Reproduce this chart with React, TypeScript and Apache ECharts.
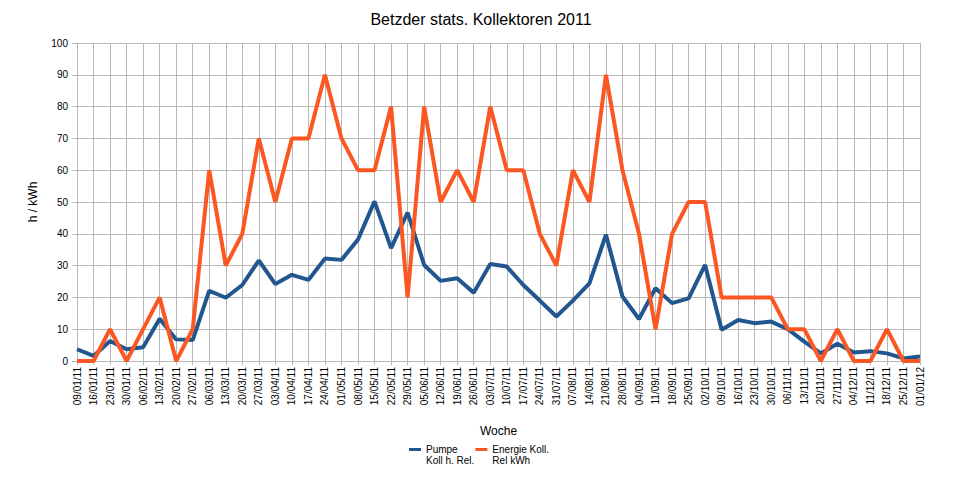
import React, { useEffect, useRef } from "react";
import * as echarts from "echarts";

const weeks = [
  "09/01/11", "16/01/11", "23/01/11", "30/01/11", "06/02/11", "13/02/11", "20/02/11", "27/02/11",
  "06/03/11", "13/03/11", "20/03/11", "27/03/11", "03/04/11", "10/04/11", "17/04/11", "24/04/11",
  "01/05/11", "08/05/11", "15/05/11", "22/05/11", "29/05/11", "05/06/11", "12/06/11", "19/06/11",
  "26/06/11", "03/07/11", "10/07/11", "17/07/11", "24/07/11", "31/07/11", "07/08/11", "14/08/11",
  "21/08/11", "28/08/11", "04/09/11", "11/09/11", "18/09/11", "25/09/11", "02/10/11", "09/10/11",
  "16/10/11", "23/10/11", "30/10/11", "06/11/11", "13/11/11", "20/11/11", "27/11/11", "04/12/11",
  "11/12/11", "18/12/11", "25/12/11", "01/01/12",
];

const pumpe = [
  3.7, 1.6, 6.3, 3.7, 4.3, 13.3, 6.8, 6.6, 22.1, 19.9, 23.9, 31.6, 24.2, 27.1, 25.5, 32.2,
  31.8, 38.2, 50.2, 35.5, 46.7, 30.2, 25.2, 26.0, 21.5, 30.5, 29.7, 23.9, 19.0, 14.0, 19.0, 24.4,
  39.7, 20.3, 13.2, 22.9, 18.2, 19.7, 30.2, 9.8, 12.9, 11.9, 12.4, 10.0, 6.1, 2.4, 5.4, 2.7,
  3.1, 2.4, 0.8, 1.4,
];

const energie = [
  0, 0, 10, 0, 10, 20, 0, 10, 60, 30, 40, 70, 50, 70, 70, 90,
  70, 60, 60, 80, 20, 80, 50, 60, 50, 80, 60, 60, 40, 30, 60, 50,
  90, 60, 40, 10, 40, 50, 50, 20, 20, 20, 20, 10, 10, 0, 10, 0,
  0, 10, 0, 0,
];

const seriesNames = ["Pumpe\nKoll h. Rel.", "Energie Koll.\nRel kWh"];
const titleText = "Betzder stats. Kollektoren 2011";
const xAxisName = "Woche";
const yAxisName = "h / kWh";

const FONT = "'Liberation Sans', Arial, sans-serif";
const BLUE = "#21568f";
const ORANGE = "#fb5722";
const GRID = "#b8b8b8";
// legend icon: a 12x3 bar at the top of a 12x14 box (aligned with the first text line)
const LEGEND_ICON = "path://M0,0H12V3H0Z M0,14H12V14.001H0Z";

export default function App() {
  const ref = useRef<HTMLDivElement>(null);
  useEffect(() => {
    if (!ref.current) return;
    const chart = echarts.init(ref.current, undefined, { renderer: "svg" });
    chart.setOption({
      animation: false,
      backgroundColor: "#ffffff",
      title: {
        text: titleText,
        left: "center",
        top: 6,
        textStyle: { fontFamily: FONT, fontSize: 16, fontWeight: "normal", color: "#000" },
      },
      grid: { left: 77, right: 42, top: 43, bottom: 123 },
      legend: {
        left: 409,
        top: 444,
        padding: 0,
        itemWidth: 12,
        itemHeight: 14,
        itemGap: 1,
        icon: LEGEND_ICON,
        data: [
          { name: seriesNames[0], itemStyle: { color: BLUE } },
          { name: seriesNames[1], itemStyle: { color: ORANGE } },
        ],
        textStyle: {
          fontFamily: FONT,
          fontSize: 10,
          color: "#000",
          lineHeight: 11,
        },
      },
      xAxis: {
        type: "category",
        data: weeks,
        boundaryGap: false,
        name: xAxisName,
        nameLocation: "middle",
        nameGap: 64,
        nameTextStyle: { fontFamily: FONT, fontSize: 12, color: "#000" },
        axisLine: { lineStyle: { color: GRID, width: 1 } },
        axisTick: { show: true, length: 4, lineStyle: { color: GRID } },
        axisLabel: {
          rotate: 90,
          interval: 0,
          margin: 6,
          fontFamily: FONT,
          fontSize: 10,
          color: "#000",
        },
        splitLine: { show: true, lineStyle: { color: GRID, width: 1 } },
      },
      yAxis: {
        type: "value",
        min: 0,
        max: 100,
        interval: 10,
        name: yAxisName,
        nameLocation: "middle",
        nameGap: 38,
        nameTextStyle: { fontFamily: FONT, fontSize: 12, color: "#000" },
        axisLine: { show: true, lineStyle: { color: GRID, width: 1 } },
        axisTick: { show: true, length: 5, lineStyle: { color: GRID } },
        axisLabel: { fontFamily: FONT, fontSize: 10, color: "#000", margin: 9 },
        splitLine: { show: true, lineStyle: { color: GRID, width: 1 } },
      },
      series: [
        {
          name: seriesNames[0],
          type: "line",
          data: pumpe,
          showSymbol: false,
          symbol: "none",
          color: BLUE,
          lineStyle: { color: BLUE, width: 4 },
        },
        {
          name: seriesNames[1],
          type: "line",
          data: energie,
          showSymbol: false,
          symbol: "none",
          color: ORANGE,
          lineStyle: { color: ORANGE, width: 4 },
        },
      ],
    });
    return () => chart.dispose();
  }, []);
  return <div ref={ref} style={{ width: 962, height: 484, position: "absolute", left: 0, top: 0 }} />;
}
